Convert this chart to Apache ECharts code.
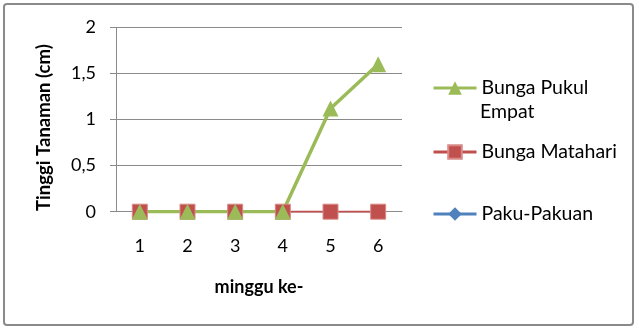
<!DOCTYPE html>
<html>
<head>
<meta charset="utf-8">
<script src="https://cdn.jsdelivr.net/npm/echarts@6/dist/echarts.min.js"></script>
<style>html,body{margin:0;padding:0;background:#fff;}#c{width:639px;height:329px;}</style>
</head>
<body>
<div id="c"></div>
<script>
var categories = ['1', '2', '3', '4', '5', '6'];
var bungaPukulEmpat = [0, 0, 0, 0, 1.12, 1.6];
var bungaMatahari = [0, 0, 0, 0, 0, 0];
var pakuPakuan = [0, 0, 0, 0, 0, 0];
var yTicks = [0, 0.5, 1, 1.5, 2];

var FONT = 'Lato';
var FS = 18;
var LFS = 19.5;
var chart = echarts.init(document.getElementById('c'));
var legendBase = {
  orient: 'vertical', left: 432, padding: 0, itemWidth: 43, itemHeight: 17, itemGap: 0,
  lineStyle: { width: 3 },
  textStyle: { fontFamily: FONT, fontSize: LFS, color: '#000' }, selectedMode: false
};
chart.setOption({
  animation: false,
  textStyle: { fontFamily: FONT },
  graphic: [{
    type: 'rect', shape: { x: 4, y: 4, width: 629, height: 321, r: 3 },
    style: { fill: 'none', stroke: '#8a8a8a', lineWidth: 2 }, silent: true
  }, {
    type: 'text', left: 480, top: 102,
    style: { text: 'Empat', fontFamily: FONT, fontSize: LFS, fill: '#000' }, silent: true
  }],
  grid: { left: 116, right: 237, top: 27.5, bottom: 117.3 },
  legend: [
    Object.assign({}, legendBase, {
      top: 78, data: ['Bunga Pukul Empat'],
      formatter: function () { return 'Bunga Pukul'; }
    }),
    Object.assign({}, legendBase, { top: 142, data: ['Bunga Matahari'] }),
    Object.assign({}, legendBase, { top: 204, data: ['Paku-Pakuan'] })
  ],
  xAxis: {
    type: 'category', data: categories, boundaryGap: true,
    name: 'minggu ke-', nameLocation: 'middle', nameGap: 66,
    nameTextStyle: { fontFamily: FONT, fontSize: FS, fontWeight: 'bold', color: '#000' },
    axisLine: { lineStyle: { color: '#8a8a8a', width: 1 } },
    axisTick: { show: false },
    axisLabel: { margin: 25, fontFamily: FONT, fontSize: FS, color: '#000' }
  },
  yAxis: {
    type: 'value', min: 0, max: 2, interval: 0.5,
    name: 'Tinggi Tanaman (cm)', nameLocation: 'middle', nameGap: 62, nameRotate: 90,
    nameTextStyle: { fontFamily: FONT, fontSize: 18.5, fontWeight: 'bold', color: '#000', padding: [0, 16, 0, 0] },
    axisLine: { show: true, lineStyle: { color: '#8a8a8a', width: 1 } },
    axisTick: { show: true, length: 6, lineStyle: { color: '#8a8a8a' } },
    splitLine: { lineStyle: { color: '#8a8a8a', width: 1 } },
    axisLabel: {
      margin: 20, fontFamily: FONT, fontSize: FS, color: '#000',
      formatter: function (v) { return yTicks.indexOf(v) >= 0 ? String(v).replace('.', ',') : ''; }
    }
  },
  series: [
    { name: 'Paku-Pakuan', type: 'line', data: pakuPakuan, color: '#4F81BD',
      symbol: 'diamond', symbolSize: 14, lineStyle: { width: 1.5 } },
    { name: 'Bunga Matahari', type: 'line', data: bungaMatahari, color: '#C0504D',
      symbol: 'rect', symbolSize: 15, lineStyle: { width: 2 },
      itemStyle: { borderColor: '#D98A88', borderWidth: 1 } },
    { name: 'Bunga Pukul Empat', type: 'line', data: bungaPukulEmpat, color: '#9BBB59',
      symbol: 'triangle', symbolSize: 16, lineStyle: { width: 3.5 } }
  ]
});
</script>
</body>
</html>
